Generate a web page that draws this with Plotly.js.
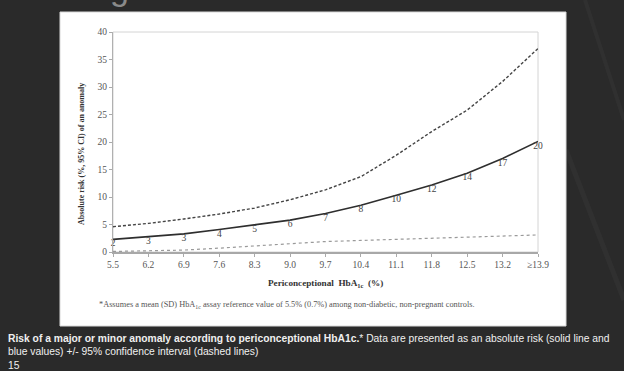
<!DOCTYPE html>
<html>
<head>
<meta charset="utf-8">
<script src="https://cdn.plot.ly/plotly-3.0.1.min.js"></script>
<style>
  html, body { margin: 0; padding: 0; background: #2a2a2a; }
  #chart { width: 624px; height: 371px; }
</style>
</head>
<body>
<div id="chart"></div>
<script>
// HbA1c categories (x axis tick labels)
const categories = ["5.5", "6.2", "6.9", "7.6", "8.3", "9.0", "9.7", "10.4", "11.1", "11.8", "12.5", "13.2", "\u226513.9"];
// Absolute risk (%) of an anomaly - solid line
const absoluteRisk = [2.3, 2.8, 3.3, 4.1, 4.9, 5.8, 7.0, 8.5, 10.3, 12.2, 14.3, 17.0, 20.1];
// Printed values along the solid line
const riskLabels = ["2", "3", "3", "4", "5", "6", "7", "8", "10", "12", "14", "17", "20"];
// Upper 95% CI - dashed line
const upperCI = [4.6, 5.2, 6.0, 6.9, 8.0, 9.5, 11.3, 13.7, 17.6, 21.9, 25.8, 31.0, 37.0];
// Lower 95% CI - dashed line
const lowerCI = [0.1, 0.25, 0.35, 0.7, 1.1, 1.45, 1.9, 2.1, 2.3, 2.5, 2.7, 2.9, 3.1];
// Y axis ticks
const yTicks = [0, 5, 10, 15, 20, 25, 30, 35, 40];

const serif = "Liberation Serif, DejaVu Serif, serif";
const sans = "Liberation Sans, Arial, sans-serif";

// Plot area in pixels: x 113..538, y 32..252
const L = 113, R = 538, T = 32, B = 252;
const W = 624, H = 371;
const px = v => (v - L) / (R - L);
const py = v => (B - v) / (B - T);

const traces = [
  {
    x: categories, y: upperCI, type: "scatter", mode: "lines",
    line: { color: "#444444", width: 1.4, dash: "3px,2px" },
    hoverinfo: "skip", showlegend: false
  },
  {
    x: categories, y: lowerCI, type: "scatter", mode: "lines",
    line: { color: "#9a9a9a", width: 1.2, dash: "3px,3px" },
    hoverinfo: "skip", showlegend: false
  },
  {
    x: categories, y: absoluteRisk, type: "scatter", mode: "lines+text",
    text: riskLabels, textposition: "bottom center",
    textfont: { family: serif, size: 9.5, color: "#444" },
    cliponaxis: false,
    line: { color: "#2e2e2e", width: 1.6 },
    hoverinfo: "skip", showlegend: false
  }
];

const layout = {
  width: W, height: H,
  margin: { l: L, r: W - R, t: T, b: H - B, pad: 0 },
  paper_bgcolor: "#2a2a2a",
  plot_bgcolor: "rgba(0,0,0,0)",
  showlegend: false,
  xaxis: {
    type: "category",
    range: [0, categories.length - 1],
    showgrid: false, zeroline: false,
    showline: true, linecolor: "#a8a8a8", linewidth: 2,
    ticks: "outside", ticklen: 3, tickcolor: "#aaa",
    tickfont: { family: serif, size: 9.5, color: "#555" },
    ticklabelstandoff: 0,
    fixedrange: true
  },
  yaxis: {
    range: [0, 40],
    tickvals: yTicks,
    showgrid: false, zeroline: false,
    showline: true, linecolor: "#b0b0b0", linewidth: 1,
    ticks: "outside", ticklen: 3, tickcolor: "#aaa",
    tickfont: { family: serif, size: 9.5, color: "#555" },
    fixedrange: true
  },
  shapes: [
    // faint streaks in the dark slide background
    { type: "line", xref: "paper", yref: "paper", layer: "below",
      x0: px(585), y0: py(0), x1: px(624), y1: py(120),
      line: { color: "rgba(255,255,255,0.03)", width: 4 } },
    { type: "line", xref: "paper", yref: "paper", layer: "below",
      x0: px(566), y0: py(150), x1: px(624), y1: py(300),
      line: { color: "rgba(255,255,255,0.03)", width: 5 } },
    // white slide panel
    { type: "rect", xref: "paper", yref: "paper", layer: "below",
      x0: px(60), x1: px(566), y0: py(326), y1: py(12),
      fillcolor: "#ffffff", line: { color: "#d8d8d8", width: 1 } },
    // light plot frame (top/right)
    { type: "rect", xref: "paper", yref: "paper", layer: "below",
      x0: 0, x1: 1, y0: 0, y1: 1,
      fillcolor: "rgba(0,0,0,0)", line: { color: "#d4d4d4", width: 1 } }
  ],
  annotations: [
    // partly hidden slide title glyph peeking above panel
    { text: "g", xref: "paper", yref: "paper", x: px(108), y: py(9),
      xanchor: "left", yanchor: "bottom", showarrow: false,
      font: { family: sans, size: 34, color: "#8a8a8a" } },
    // y axis title
    { text: "<b>Absolute risk (%, 95% CI) of an anomaly</b>", xref: "paper", yref: "paper",
      x: px(81), y: py(154), textangle: -90, showarrow: false,
      xanchor: "center", yanchor: "middle",
      font: { family: serif, size: 8, color: "#333" } },
    // x axis title
    { text: "<b>Periconceptional  HbA<sub>1c</sub>  (%)</b>", xref: "paper", yref: "paper",
      x: px(325), y: py(283), showarrow: false,
      xanchor: "center", yanchor: "middle",
      font: { family: serif, size: 9.2, color: "#333" } },
    // footnote
    { text: "*Assumes a mean (SD) HbA<sub>1c</sub> assay reference value of 5.5% (0.7%) among non-diabetic, non-pregnant controls.",
      xref: "paper", yref: "paper", x: px(97), y: py(305), showarrow: false,
      xanchor: "left", yanchor: "middle",
      font: { family: serif, size: 8.3, color: "#555" } },
    // slide caption
    { text: "<b>Risk of a major or minor anomaly according to periconceptional HbA1c.</b>* Data are presented as an absolute risk (solid line and<br>blue values) +/- 95% confidence interval (dashed lines)<br>15",
      xref: "paper", yref: "paper", x: px(6), y: py(331), showarrow: false,
      xanchor: "left", yanchor: "top", align: "left",
      font: { family: sans, size: 10.3, color: "#f0f0f0" } }
  ]
};

Plotly.newPlot("chart", traces, layout, { displayModeBar: false, staticPlot: true });
</script>
</body>
</html>
